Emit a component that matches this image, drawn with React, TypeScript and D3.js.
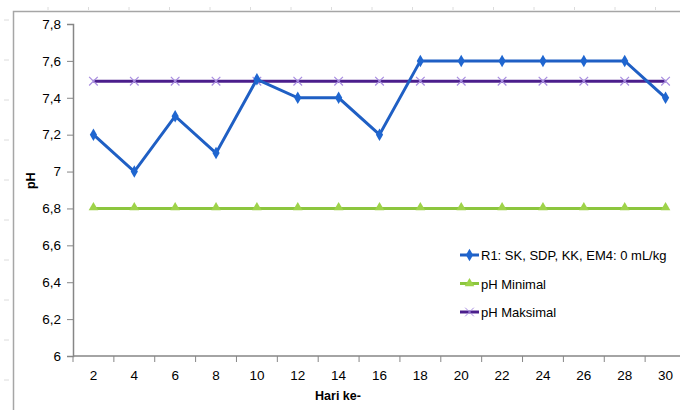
import React, { useEffect, useRef } from "react";
import * as d3 from "d3";

// hari ke- (x categories)
const days = [2, 4, 6, 8, 10, 12, 14, 16, 18, 20, 22, 24, 26, 28, 30];
// pH values
const r1Values = [7.2, 7.0, 7.3, 7.1, 7.5, 7.4, 7.4, 7.2, 7.6, 7.6, 7.6, 7.6, 7.6, 7.6, 7.4];
const phMin = days.map(() => 6.8);
const phMax = days.map(() => 7.49);
const yTicks = [6, 6.2, 6.4, 6.6, 6.8, 7, 7.2, 7.4, 7.6, 7.8];
const seriesNames = ["R1: SK, SDP, KK, EM4: 0 mL/kg", "pH Minimal", "pH Maksimal"];

const FONT = "'Liberation Sans', Arial, sans-serif";

const App = () => {
  const ref = useRef<SVGSVGElement>(null);

  useEffect(() => {
    const W = 680,
      H = 410;
    const margin = { top: 24, right: -6, bottom: 54, left: 73 };
    const width = W - margin.left - margin.right;
    const height = H - margin.top - margin.bottom;

    const root = d3.select(ref.current);
    root.selectAll("*").remove();

    // chart frame (the outer border, cropped at the right/bottom)
    root
      .append("path")
      .attr("d", `M13.5,${H} V11.5 H${W}`)
      .attr("fill", "none")
      .attr("stroke", "#a6a6a6")
      .attr("stroke-width", 1.5);

    // faint ruler marks around the frame
    root
      .append("g")
      .selectAll("line")
      .data(d3.range(48, W, 40.5))
      .enter()
      .append("line")
      .attr("x1", (d) => d)
      .attr("x2", (d) => d)
      .attr("y1", 7)
      .attr("y2", 10)
      .attr("stroke", "#dcdcdc");
    root
      .append("g")
      .selectAll("line")
      .data(d3.range(20, H, 40))
      .enter()
      .append("line")
      .attr("x1", 4)
      .attr("x2", 9)
      .attr("y1", (d) => d)
      .attr("y2", (d) => d)
      .attr("stroke", "#dcdcdc");

    const svg = root.append("g").attr("transform", `translate(${margin.left},${margin.top})`);

    const xScale = d3
      .scaleBand<number>()
      .domain(days)
      .range([0, width])
      .padding(0);
    const yScale = d3.scaleLinear().domain([6, 7.8]).range([height, 0]);
    const cx = (d: number) => (xScale(d) as number) + xScale.bandwidth() / 2;

    // y axis
    const yAxis = svg
      .append("g")
      .call(
        d3
          .axisLeft(yScale)
          .tickValues(yTicks)
          .tickSize(6)
          .tickPadding(6)
          .tickFormat((d) => d3.format("")(+(+d).toFixed(1)).replace(".", ","))
      );
    yAxis.select(".domain").attr("stroke", "#868686").attr("stroke-width", 1.5);
    yAxis.selectAll(".tick line").attr("stroke", "#868686");
    yAxis
      .selectAll(".tick text")
      .attr("fill", "#000")
      .style("font-family", FONT)
      .style("font-size", "13.5px");

    // x axis with ticks on the band boundaries
    const xAxis = svg.append("g").attr("transform", `translate(0,${height})`);
    xAxis
      .append("line")
      .attr("x1", 0)
      .attr("x2", width)
      .attr("stroke", "#868686")
      .attr("stroke-width", 1.5);
    xAxis
      .selectAll(".xt")
      .data(days)
      .enter()
      .append("line")
      .attr("x1", (d) => (xScale(d) as number))
      .attr("x2", (d) => (xScale(d) as number))
      .attr("y1", 0)
      .attr("y2", 6)
      .attr("stroke", "#868686");
    xAxis
      .selectAll(".xl")
      .data(days)
      .enter()
      .append("text")
      .attr("x", cx)
      .attr("y", 24)
      .attr("text-anchor", "middle")
      .style("font-family", FONT)
      .style("font-size", "13.5px")
      .text((d) => d);

    // axis titles
    svg
      .append("text")
      .attr("x", 265)
      .attr("y", height + 44)
      .attr("text-anchor", "middle")
      .style("font-family", FONT)
      .style("font-size", "12.5px")
      .style("font-weight", "bold")
      .text("Hari ke-");
    svg
      .append("text")
      .attr("transform", `translate(-38,${yScale(6.95)}) rotate(-90)`)
      .attr("text-anchor", "middle")
      .style("font-family", FONT)
      .style("font-size", "12.5px")
      .style("font-weight", "bold")
      .text("pH");

    const line = d3
      .line<number>()
      .x((_, i) => cx(days[i]))
      .y((d) => yScale(d));

    // pH Minimal
    svg
      .append("path")
      .datum(phMin)
      .attr("d", line)
      .attr("fill", "none")
      .attr("stroke", "#8cc63e")
      .attr("stroke-width", 3);
    const tri = d3.symbol().type(d3.symbolTriangle).size(40);
    svg
      .selectAll(".tri")
      .data(phMin)
      .enter()
      .append("path")
      .attr("d", tri)
      .attr("transform", (d, i) => `translate(${cx(days[i])},${yScale(d) - 1})`)
      .attr("fill", "#9ed34a");

    // pH Maksimal
    svg
      .append("path")
      .datum(phMax)
      .attr("d", line)
      .attr("fill", "none")
      .attr("stroke", "#4b1e8c")
      .attr("stroke-width", 3);
    const cross = d3.symbol().type(d3.symbolX).size(50);
    svg
      .selectAll(".cross")
      .data(phMax)
      .enter()
      .append("path")
      .attr("d", cross)
      .attr("transform", (d, i) => `translate(${cx(days[i])},${yScale(d)})`)
      .attr("fill", "none")
      .attr("stroke", "#a88de0")
      .attr("stroke-width", 1.2);

    // R1
    svg
      .append("path")
      .datum(r1Values)
      .attr("d", line)
      .attr("fill", "none")
      .attr("stroke", "#1f5fc4")
      .attr("stroke-width", 3);
    const diamond = d3.symbol().type(d3.symbolDiamond).size(45);
    svg
      .selectAll(".dia")
      .data(r1Values)
      .enter()
      .append("path")
      .attr("d", diamond)
      .attr("transform", (d, i) => `translate(${cx(days[i])},${yScale(d)})`)
      .attr("fill", "#1f66d0");

    // legend
    const legend = root.append("g").attr("transform", "translate(460,255)");
    const styles = [
      { stroke: "#1f5fc4", marker: diamond, fill: "#1f66d0", markerStroke: "none" },
      { stroke: "#8cc63e", marker: tri, fill: "#9ed34a", markerStroke: "none" },
      { stroke: "#4b1e8c", marker: cross, fill: "none", markerStroke: "#a88de0" },
    ];
    seriesNames.forEach((name, i) => {
      const g = legend.append("g").attr("transform", `translate(0,${i * 28.5})`);
      g.append("line")
        .attr("x1", 0)
        .attr("x2", 19)
        .attr("stroke", styles[i].stroke)
        .attr("stroke-width", 3);
      g.append("path")
        .attr("d", styles[i].marker)
        .attr("transform", "translate(9.5,0)")
        .attr("fill", styles[i].fill)
        .attr("stroke", styles[i].markerStroke);
      g.append("text")
        .attr("x", 21)
        .attr("y", 5)
        .style("font-family", FONT)
        .style("font-size", "13px")
        .text(name);
    });
  }, []);

  return (
    <svg
      ref={ref}
      width={680}
      height={410}
      style={{ position: "absolute", left: 0, top: 0, background: "#fff" }}
    />
  );
};

export default App;
